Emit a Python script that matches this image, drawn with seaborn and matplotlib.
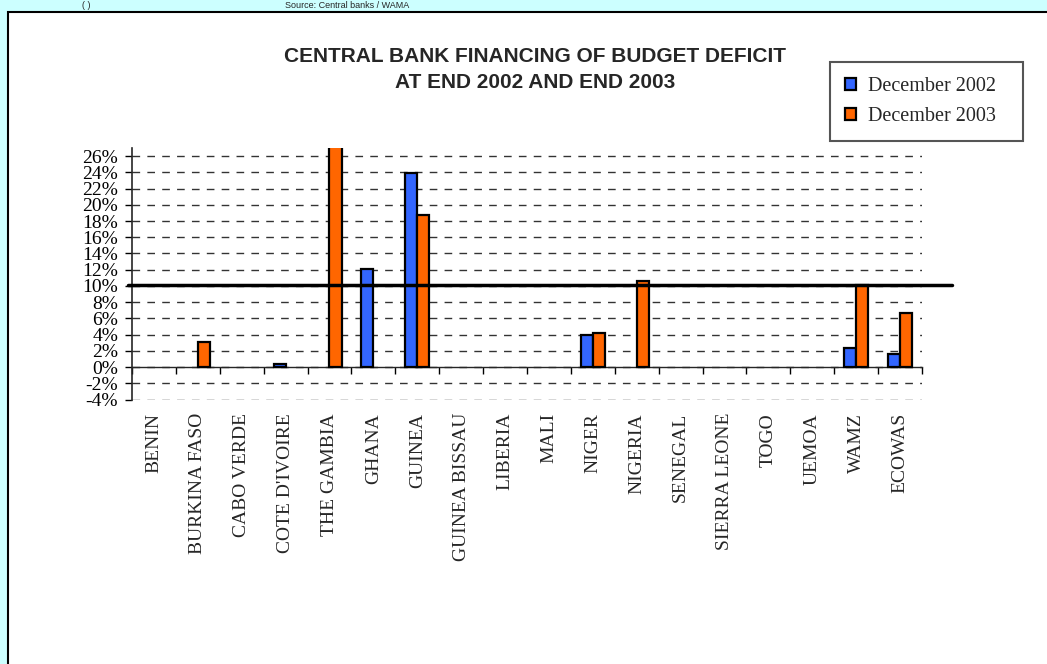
import numpy as np
import pandas as pd
import matplotlib
matplotlib.use("Agg")
import matplotlib.pyplot as plt
from matplotlib.patches import Rectangle
from matplotlib.ticker import FixedLocator, FuncFormatter
import seaborn as sns

# categories and series values (fraction of budget deficit)
countries = ["BENIN", "BURKINA FASO", "CABO VERDE", "COTE D'IVOIRE", "THE GAMBIA",
             "GHANA", "GUINEA", "GUINEA BISSAU", "LIBERIA", "MALI", "NIGER",
             "NIGERIA", "SENEGAL", "SIERRA LEONE", "TOGO", "UEMOA", "WAMZ", "ECOWAS"]
dec_2002 = [np.nan, np.nan, np.nan, 0.004, np.nan, 0.121, 0.239, np.nan, np.nan,
            np.nan, 0.039, np.nan, np.nan, np.nan, np.nan, np.nan, 0.024, 0.016]
dec_2003 = [np.nan, 0.031, np.nan, np.nan, 0.300, np.nan, 0.188, np.nan, np.nan,
            np.nan, 0.042, 0.106, np.nan, np.nan, np.nan, np.nan, 0.101, 0.067]
series_names = ["December 2002", "December 2003"]
y_ticks = [-0.04, -0.02, 0.0, 0.02, 0.04, 0.06, 0.08, 0.10, 0.12, 0.14,
           0.16, 0.18, 0.20, 0.22, 0.24, 0.26]
ceiling = 0.101  # 10% limit line

df = pd.DataFrame({
    "country": countries * 2,
    "value": dec_2002 + dec_2003,
    "period": [series_names[0]] * len(countries) + [series_names[1]] * len(countries),
})

sns.set_style("white")
plt.rcParams["font.family"] = ["Liberation Serif", "DejaVu Serif"]

W, H = 1047, 664
fig = plt.figure(figsize=(W / 100, H / 100), dpi=100, facecolor="#CCFFFF")

# white chart panel with black border on the left/top
fig.add_artist(Rectangle((8 / W, -0.01), 1.0, (H - 12) / H + 0.01, transform=fig.transFigure,
                         facecolor="white", edgecolor="black", linewidth=1.5, zorder=0))

# small text in the top strip
fig.text(82 / W, 1 - 8.5 / H, "( )", fontsize=6.5, family="Liberation Sans", va="baseline")
fig.text(285 / W, 1 - 8.5 / H, "Source: Central banks / WAMA", fontsize=6.5,
         family="Liberation Sans", va="baseline")

ax = fig.add_axes([132 / W, 1 - 399.5 / H, 790 / W, (399.5 - 148) / H])
ax.set_facecolor("none")

sns.barplot(data=df, x="country", y="value", hue="period", order=countries,
            hue_order=series_names, palette=["#3366FF", "#FF6600"], width=0.55,
            saturation=1, edgecolor="black", linewidth=1.6, errorbar=None, ax=ax, zorder=3)

ax.set_ylim(-0.04, 0.27)
ax.set_xlim(-0.5, len(countries) - 0.5)

# y axis
ax.yaxis.set_major_locator(FixedLocator(y_ticks))
ax.yaxis.set_major_formatter(FuncFormatter(lambda v, p: f"{round(v * 100):d}%"))
ax.tick_params(axis="y", direction="out", length=5, width=1, pad=5, labelsize=14,
               left=True, colors="black")
ax.yaxis.grid(True, color="#333333", linewidth=1, linestyle=(0, (5.5, 5.2)))
ax.set_axisbelow(True)

# x axis crossing at 0, ticks at category boundaries
ax.spines["bottom"].set_position(("data", 0))
ax.spines["bottom"].set_linewidth(1)
ax.spines["left"].set_linewidth(1.2)
for s in ["top", "right"]:
    ax.spines[s].set_visible(False)
ax.set_xticks(np.arange(len(countries)))
ax.set_xticklabels(countries, rotation=90, va="top", ha="center")
ax.set_xticks(np.arange(len(countries) + 1) - 0.5, minor=True)
ax.tick_params(axis="x", which="major", length=0, pad=33, labelsize=14)
ax.tick_params(axis="x", which="minor", direction="out", length=5, width=1,
               bottom=True, color="black")
ax.set_xlabel("")
ax.set_ylabel("")

# 10% limit line extending past the plot
ax.axhline(ceiling, xmin=-0.005, xmax=1.038, color="black", linewidth=2.5,
           clip_on=False, zorder=5)

# title
fig.text(535 / W, 1 - 57 / H, "CENTRAL BANK FINANCING OF BUDGET DEFICIT",
         family="Liberation Sans", weight="bold", fontsize=15, ha="center", va="center")
fig.text(535 / W, 1 - 82.5 / H, "AT END 2002 AND END 2003",
         family="Liberation Sans", weight="bold", fontsize=15, ha="center", va="center")

# legend
handles, labels = ax.get_legend_handles_labels()
leg = ax.legend(handles, labels, loc="upper left", mode="expand",
                bbox_to_anchor=(830 / W, 1 - 141 / H, 193 / W, 79 / H),
                bbox_transform=fig.transFigure, fancybox=False, framealpha=1,
                edgecolor="#555555", fontsize=14.5, handlelength=0.55, handleheight=0.55,
                handletextpad=0.6, labelspacing=0.55, borderpad=0.75, borderaxespad=0)
leg.get_frame().set_linewidth(1.5)

fig.savefig("out.png", dpi=100, facecolor=fig.get_facecolor())
